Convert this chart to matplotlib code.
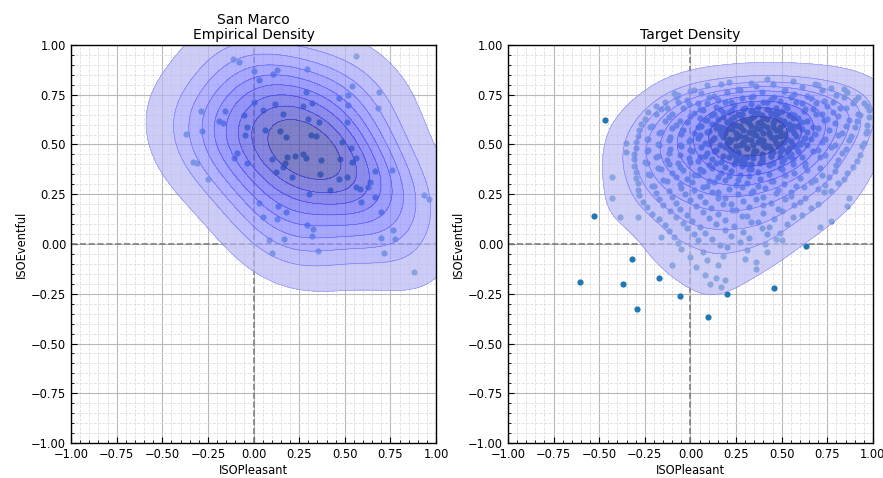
import numpy as np
import matplotlib
matplotlib.use("Agg")
import matplotlib.pyplot as plt
import seaborn as sns
from matplotlib.ticker import MultipleLocator

# San Marco survey responses
sm_pleasant = [
    -0.114, -0.081, 0.562, 0.004, 0.130, 0.108, 0.292, 0.032, 0.538, 0.688,
    0.286, 0.519, 0.470, 0.519, 0.682, 0.004, 0.118, 0.273, 0.321, -0.289,
    -0.156, 0.052, 0.160, -0.052, -0.187, -0.169, 0.300, 0.357, 0.511, -0.037,
    -0.281, -0.368, 0.065, 0.145, -0.048, 0.178, 0.313, 0.342, 0.485, 0.533,
    -0.090, -0.108, 0.182, 0.226, 0.270, 0.286, 0.103, 0.372, 0.474, 0.560,
    0.542, -0.333, -0.311, -0.037, 0.174, 0.163, 0.122, 0.364, 0.213, 0.470,
    0.514, 0.664, 0.759, -0.251, 0.638, 0.629, 0.562, 0.584, 0.419, 0.306,
    0.666, 0.589, 0.936, 0.960, 0.032, 0.136, 0.178, 0.697, 0.052, 0.127,
    0.292, 0.324, 0.321, 0.763, 0.697, 0.777, 0.085, 0.165, 0.353, 0.100,
    0.717, 0.882,
]
sm_eventful = [
    0.931, 0.913, 0.945, 0.869, 0.874, 0.853, 0.879, 0.826, 0.792, 0.765,
    0.765, 0.749, 0.734, 0.700, 0.683, 0.714, 0.702, 0.692, 0.707, 0.667,
    0.667, 0.673, 0.653, 0.648, 0.620, 0.610, 0.628, 0.615, 0.612, 0.589,
    0.568, 0.553, 0.571, 0.568, 0.548, 0.536, 0.548, 0.544, 0.514, 0.484,
    0.459, 0.432, 0.436, 0.442, 0.451, 0.432, 0.427, 0.421, 0.429, 0.432,
    0.410, 0.413, 0.407, 0.406, 0.409, 0.389, 0.363, 0.350, 0.338, 0.325,
    0.338, 0.367, 0.373, 0.328, 0.310, 0.288, 0.288, 0.276, 0.273, 0.251,
    0.235, 0.211, 0.246, 0.228, 0.206, 0.189, 0.162, 0.159, 0.137, 0.124,
    0.095, 0.077, 0.039, 0.069, 0.032, 0.025, 0.022, 0.025, -0.034, -0.047,
    -0.047, -0.141,
]

# target sample (right panel), row by row from top to bottom
target_pleasant = [
    0.21, 0.33, 0.42, 0.56, 0.68,
    0.02, 0.09, 0.17, 0.26, 0.36, 0.45, 0.52, 0.61, 0.70, 0.77, 0.84,
    -0.07, 0.00, 0.06, 0.13, 0.20, 0.27, 0.33, 0.39, 0.46, 0.51, 0.57, 0.64, 0.72, 0.80, 0.86, 0.92,
    -0.14, -0.08, -0.02, 0.04, 0.10, 0.15, 0.22, 0.28, 0.34, 0.40, 0.44, 0.49, 0.55, 0.61, 0.66, 0.73, 0.78, 0.84, 0.90, 0.95,
    -0.19, -0.13, -0.07, -0.01, 0.05, 0.09, 0.14, 0.19, 0.24, 0.29, 0.33, 0.37, 0.42, 0.47, 0.52, 0.58, 0.63, 0.69, 0.75, 0.82, 0.89, 0.97,
    -0.23, -0.16, -0.10, -0.04, 0.02, 0.07, 0.11, 0.16, 0.21, 0.26, 0.30, 0.34, 0.39, 0.43, 0.48, 0.53, 0.57, 0.62, 0.67, 0.72, 0.78, 0.85, 0.92, 0.98,
    -0.25, -0.19, -0.12, -0.06, 0.00, 0.05, 0.09, 0.13, 0.18, 0.22, 0.27, 0.31, 0.35, 0.40, 0.44, 0.49, 0.54, 0.59, 0.64, 0.69, 0.75, 0.81, 0.87, 0.93, 0.98,
    -0.27, -0.21, -0.14, -0.08, -0.02, 0.04, 0.08, 0.12, 0.16, 0.20, 0.25, 0.29, 0.33, 0.37, 0.42, 0.46, 0.51, 0.56, 0.61, 0.67, 0.73, 0.79, 0.85, 0.91, 0.97,
    -0.28, -0.22, -0.16, -0.10, -0.04, 0.02, 0.06, 0.10, 0.14, 0.19, 0.23, 0.27, 0.32, 0.36, 0.40, 0.45, 0.49, 0.54, 0.59, 0.64, 0.70, 0.76, 0.83, 0.90, 0.97,
    -0.29, -0.23, -0.17, -0.11, -0.05, 0.00, 0.05, 0.09, 0.13, 0.17, 0.21, 0.26, 0.30, 0.34, 0.38, 0.43, 0.47, 0.52, 0.57, 0.62, 0.68, 0.74, 0.81, 0.88, 0.96,
    -0.30, -0.24, -0.18, -0.12, -0.06, -0.01, 0.04, 0.08, 0.12, 0.16, 0.21, 0.25, 0.29, 0.33, 0.37, 0.41, 0.46, 0.50, 0.55, 0.60, 0.66, 0.72, 0.79, 0.87, 0.95,
    -0.30, -0.23, -0.17, -0.11, -0.05, 0.01, 0.06, 0.10, 0.14, 0.19, 0.23, 0.27, 0.31, 0.35, 0.40, 0.44, 0.48, 0.53, 0.58, 0.64, 0.70, 0.77, 0.85, 0.94,
    -0.31, -0.24, -0.18, -0.12, -0.06, 0.00, 0.05, 0.09, 0.13, 0.18, 0.22, 0.26, 0.31, 0.35, 0.39, 0.44, 0.49, 0.55, 0.61, 0.67, 0.74, 0.83, 0.93,
    -0.31, -0.25, -0.19, -0.13, -0.07, -0.01, 0.04, 0.08, 0.12, 0.17, 0.21, 0.25, 0.30, 0.34, 0.39, 0.44, 0.50, 0.56, 0.63, 0.71, 0.81, 0.91,
    -0.31, -0.24, -0.18, -0.12, -0.06, 0.00, 0.05, 0.10, 0.14, 0.19, 0.24, 0.28, 0.33, 0.38, 0.43, 0.49, 0.56, 0.63, 0.71, 0.80, 0.89,
    -0.30, -0.23, -0.16, -0.10, -0.04, 0.02, 0.07, 0.12, 0.17, 0.22, 0.27, 0.32, 0.37, 0.43, 0.50, 0.57, 0.64, 0.72, 0.79, 0.86,
    -0.30, -0.22, -0.15, -0.08, -0.02, 0.04, 0.10, 0.15, 0.21, 0.26, 0.32, 0.38, 0.45, 0.52, 0.60, 0.68, 0.76, 0.84,
    -0.29, -0.21, -0.13, -0.06, 0.01, 0.07, 0.13, 0.19, 0.25, 0.31, 0.37, 0.44, 0.51, 0.58, 0.66, 0.74, 0.81,
    -0.29, -0.20, -0.12, -0.05, 0.02, 0.09, 0.15, 0.21, 0.28, 0.34, 0.41, 0.48, 0.55, 0.62, 0.70, 0.77,
    -0.28, -0.19, -0.10, -0.03, 0.05, 0.12, 0.19, 0.26, 0.33, 0.40, 0.47, 0.55, 0.63, 0.73,
    -0.26, -0.17, -0.08, 0.00, 0.08, 0.15, 0.22, 0.29, 0.36, 0.44, 0.52, 0.60, 0.70,
    -0.24, -0.15, -0.06, 0.03, 0.11, 0.18, 0.25, 0.32, 0.40, 0.48, 0.57, 0.66,
    -0.21, -0.11, -0.02, 0.07, 0.15, 0.23, 0.31, 0.40, 0.50, 0.61,
    -0.17, -0.08, 0.01, 0.10, 0.19, 0.28, 0.37, 0.46, 0.56,
    -0.14, -0.04, 0.05, 0.14, 0.24, 0.33, 0.43, 0.53,
    -0.12, -0.02, 0.08, 0.19, 0.29, 0.39, 0.49,
    -0.09, 0.02, 0.12, 0.22, 0.32, 0.42, 0.47,
    -0.07, 0.04, 0.16, 0.27, 0.41, 0.50,
    -0.05, 0.07, 0.20, 0.31, 0.42,
    0.00, 0.09, 0.18, 0.30, 0.36,
    0.03, 0.15, 0.36,
    0.08, 0.14, 0.19,
    # dense core
    0.18, 0.23, 0.28, 0.33, 0.37, 0.42, 0.46, 0.50, 0.55,
    0.15, 0.20, 0.24, 0.29, 0.33, 0.38, 0.42, 0.47, 0.51, 0.56,
    0.14, 0.18, 0.23, 0.27, 0.32, 0.36, 0.40, 0.45, 0.49, 0.54, 0.59,
    0.16, 0.20, 0.25, 0.29, 0.34, 0.38, 0.43, 0.47, 0.52, 0.56, 0.61,
    0.18, 0.22, 0.27, 0.31, 0.36, 0.40, 0.44, 0.49, 0.53, 0.58, 0.63,
    0.20, 0.25, 0.29, 0.34, 0.38, 0.43, 0.47, 0.51, 0.56, 0.61,
    0.21, 0.26, 0.31, 0.36, 0.41, 0.45, 0.50, 0.54, 0.59,
    0.24, 0.29, 0.34, 0.39, 0.44, 0.49, 0.54,
    0.27, 0.33, 0.39, 0.45, 0.51,
    # outlying responses
    -0.468, -0.353, -0.353, -0.430, -0.430, -0.386, -0.529, -0.605, -0.321, -0.370,
    -0.293, -0.173, -0.101, -0.058, -0.092, -0.288, -0.162, 0.096, 0.107, 0.169,
    0.200, 0.459, 0.635, 0.768, 0.710, 0.856, 0.867,
]
target_eventful = [
    0.815, 0.808, 0.829, 0.821, 0.806,
    0.776, 0.797, 0.803, 0.781, 0.794, 0.806, 0.772, 0.789, 0.801, 0.786, 0.779,
    0.748, 0.771, 0.757, 0.744, 0.766, 0.775, 0.739, 0.762, 0.741, 0.769, 0.752, 0.745, 0.773, 0.748, 0.766, 0.737,
    0.716, 0.738, 0.724, 0.709, 0.741, 0.722, 0.714, 0.735, 0.745, 0.712, 0.729, 0.718, 0.740, 0.706, 0.733, 0.721, 0.713, 0.737, 0.725, 0.710,
    0.693, 0.681, 0.712, 0.702, 0.679, 0.708, 0.687, 0.715, 0.698, 0.676, 0.705, 0.689, 0.711, 0.684, 0.697, 0.715, 0.678, 0.706, 0.692, 0.683, 0.709, 0.695,
    0.664, 0.676, 0.652, 0.682, 0.659, 0.671, 0.648, 0.679, 0.661, 0.655, 0.684, 0.667, 0.646, 0.673, 0.658, 0.681, 0.650, 0.669, 0.677, 0.654, 0.663, 0.685, 0.651, 0.672,
    0.628, 0.652, 0.639, 0.619, 0.645, 0.633, 0.621, 0.654, 0.637, 0.626, 0.649, 0.617, 0.642, 0.631, 0.655, 0.624, 0.646, 0.635, 0.618, 0.651, 0.629, 0.641, 0.623, 0.648, 0.636,
    0.604, 0.591, 0.618, 0.597, 0.612, 0.586, 0.621, 0.603, 0.589, 0.615, 0.598, 0.624, 0.593, 0.609, 0.587, 0.619, 0.601, 0.594, 0.613, 0.588, 0.622, 0.606, 0.592, 0.617, 0.599,
    0.571, 0.589, 0.563, 0.582, 0.574, 0.559, 0.591, 0.567, 0.585, 0.556, 0.578, 0.593, 0.565, 0.581, 0.559, 0.588, 0.569, 0.576, 0.592, 0.561, 0.584, 0.572, 0.557, 0.587, 0.566,
    0.543, 0.529, 0.558, 0.537, 0.552, 0.524, 0.547, 0.561, 0.533, 0.555, 0.526, 0.549, 0.539, 0.562, 0.528, 0.551, 0.536, 0.545, 0.559, 0.531, 0.554, 0.527, 0.548, 0.541, 0.557,
    0.512, 0.527, 0.503, 0.521, 0.496, 0.518, 0.531, 0.507, 0.524, 0.499, 0.515, 0.532, 0.504, 0.522, 0.511, 0.497, 0.529, 0.508, 0.519, 0.501, 0.526, 0.513, 0.498, 0.523, 0.509,
    0.484, 0.471, 0.497, 0.478, 0.492, 0.467, 0.489, 0.501, 0.474, 0.486, 0.466, 0.495, 0.481, 0.469, 0.499, 0.476, 0.491, 0.468, 0.485, 0.498, 0.473, 0.488, 0.479, 0.494,
    0.452, 0.468, 0.441, 0.459, 0.447, 0.471, 0.438, 0.456, 0.466, 0.443, 0.461, 0.449, 0.436, 0.469, 0.454, 0.442, 0.463, 0.451, 0.439, 0.467, 0.445, 0.458, 0.448,
    0.427, 0.413, 0.439, 0.421, 0.408, 0.434, 0.418, 0.442, 0.425, 0.411, 0.436, 0.422, 0.407, 0.431, 0.419, 0.441, 0.414, 0.429, 0.409, 0.437, 0.423, 0.416,
    0.392, 0.408, 0.383, 0.401, 0.389, 0.412, 0.379, 0.397, 0.406, 0.386, 0.403, 0.391, 0.378, 0.409, 0.395, 0.384, 0.404, 0.393, 0.381, 0.399, 0.387,
    0.364, 0.351, 0.377, 0.359, 0.372, 0.347, 0.368, 0.381, 0.355, 0.366, 0.348, 0.375, 0.361, 0.352, 0.379, 0.357, 0.371, 0.349, 0.366, 0.358,
    0.331, 0.347, 0.322, 0.338, 0.326, 0.349, 0.318, 0.336, 0.344, 0.324, 0.341, 0.329, 0.317, 0.346, 0.333, 0.321, 0.339, 0.327,
    0.306, 0.292, 0.318, 0.299, 0.311, 0.287, 0.309, 0.321, 0.295, 0.304, 0.289, 0.316, 0.301, 0.293, 0.314, 0.297, 0.308,
    0.273, 0.289, 0.264, 0.281, 0.269, 0.291, 0.262, 0.278, 0.286, 0.266, 0.283, 0.271, 0.259, 0.287, 0.275, 0.267,
    0.244, 0.258, 0.236, 0.252, 0.239, 0.261, 0.233, 0.249, 0.256, 0.237, 0.254, 0.242, 0.231, 0.259,
    0.213, 0.228, 0.204, 0.221, 0.209, 0.231, 0.203, 0.218, 0.226, 0.207, 0.224, 0.212, 0.201,
    0.184, 0.198, 0.176, 0.191, 0.179, 0.201, 0.173, 0.188, 0.196, 0.177, 0.194, 0.182,
    0.152, 0.167, 0.144, 0.161, 0.149, 0.171, 0.143, 0.158, 0.165, 0.147,
    0.124, 0.138, 0.116, 0.131, 0.119, 0.141, 0.113, 0.128, 0.135,
    0.093, 0.108, 0.086, 0.101, 0.089, 0.111, 0.083, 0.098,
    0.063, 0.078, 0.056, 0.071, 0.059, 0.081, 0.053,
    0.034, 0.048, 0.026, 0.041, 0.029, 0.051, 0.023,
    0.004, 0.018, -0.004, 0.011, -0.001, 0.021,
    -0.024, -0.038, -0.016, -0.031, -0.042,
    -0.066, -0.081, -0.058, -0.073, -0.092,
    -0.118, -0.104, -0.126,
    -0.158, -0.172, -0.181,
    # dense core
    0.661, 0.672, 0.654, 0.668, 0.657, 0.676, 0.659, 0.670, 0.652,
    0.628, 0.614, 0.637, 0.621, 0.633, 0.611, 0.626, 0.639, 0.617, 0.631,
    0.597, 0.583, 0.604, 0.589, 0.608, 0.581, 0.599, 0.606, 0.586, 0.602, 0.591,
    0.568, 0.579, 0.557, 0.572, 0.553, 0.576, 0.561, 0.574, 0.555, 0.566, 0.578,
    0.538, 0.524, 0.543, 0.529, 0.547, 0.521, 0.536, 0.545, 0.527, 0.541, 0.532,
    0.508, 0.494, 0.512, 0.499, 0.517, 0.492, 0.506, 0.514, 0.497, 0.511,
    0.478, 0.464, 0.483, 0.469, 0.486, 0.462, 0.476, 0.484, 0.467,
    0.447, 0.433, 0.452, 0.439, 0.456, 0.436, 0.444,
    0.418, 0.404, 0.422, 0.409, 0.427,
    # outlying responses
    0.623, 0.508, 0.462, 0.337, 0.231, 0.136, 0.141, -0.191, -0.075, -0.201,
    -0.327, -0.171, -0.106, -0.261, 0.759, 0.136, 0.035, -0.365, -0.203, -0.215,
    -0.250, -0.219, -0.010, 0.114, 0.087, 0.192, 0.233,
]
assert len(target_pleasant) == len(target_eventful), (len(target_pleasant), len(target_eventful))

titles = ["San Marco\nEmpirical Density", "Target Density"]
panels = [(sm_pleasant, sm_eventful), (target_pleasant, target_eventful)]
bandwidths = [1.6, 1.2]

fig = plt.figure(figsize=(8.83, 4.78), dpi=100)
positions = [[0.0805, 0.0732, 0.4133, 0.8327], [0.5753, 0.0732, 0.4133, 0.8327]]

for pos, title, (px, py), bw in zip(positions, titles, panels, bandwidths):
    ax = fig.add_axes(pos)
    ax.set_axisbelow(True)
    ax.axhline(0, color="grey", ls="--", lw=1.2, zorder=0.8)
    ax.axvline(0, color="grey", ls="--", lw=1.2, zorder=0.8)
    ax.scatter(px, py, s=20, color="#1f77b4", linewidths=0, zorder=1)
    sns.kdeplot(x=px, y=py, ax=ax, fill=True, color="blue", alpha=0.7,
                levels=10, thresh=0.05, bw_adjust=bw, clip=((-1, 1), (-1, 1)))
    sns.kdeplot(x=px, y=py, ax=ax, fill=False, color="blue", alpha=0.25,
                levels=10, thresh=0.05, bw_adjust=bw, clip=((-1, 1), (-1, 1)),
                linewidths=0.5)
    ax.set_xlim(-1, 1)
    ax.set_ylim(-1, 1)
    ax.xaxis.set_major_locator(MultipleLocator(0.25))
    ax.yaxis.set_major_locator(MultipleLocator(0.25))
    ax.xaxis.set_minor_locator(MultipleLocator(0.05))
    ax.yaxis.set_minor_locator(MultipleLocator(0.05))
    ax.grid(which="major", color="#b8b8b8", lw=0.8)
    ax.grid(which="minor", color="#dedede", lw=0.6, ls="--")
    ax.tick_params(which="both", direction="in", labelsize=8.3)
    ax.tick_params(which="major", length=4)
    ax.tick_params(which="minor", length=2)
    for sp in ax.spines.values():
        sp.set_linewidth(1.0)
    ax.set_xlabel("ISOPleasant", fontsize=8.3, labelpad=2)
    ax.set_ylabel("ISOEventful", fontsize=8.3, labelpad=2)
    ax.set_title(title, fontsize=10, pad=4, linespacing=1.1)

fig.savefig("out.png", dpi=100)
